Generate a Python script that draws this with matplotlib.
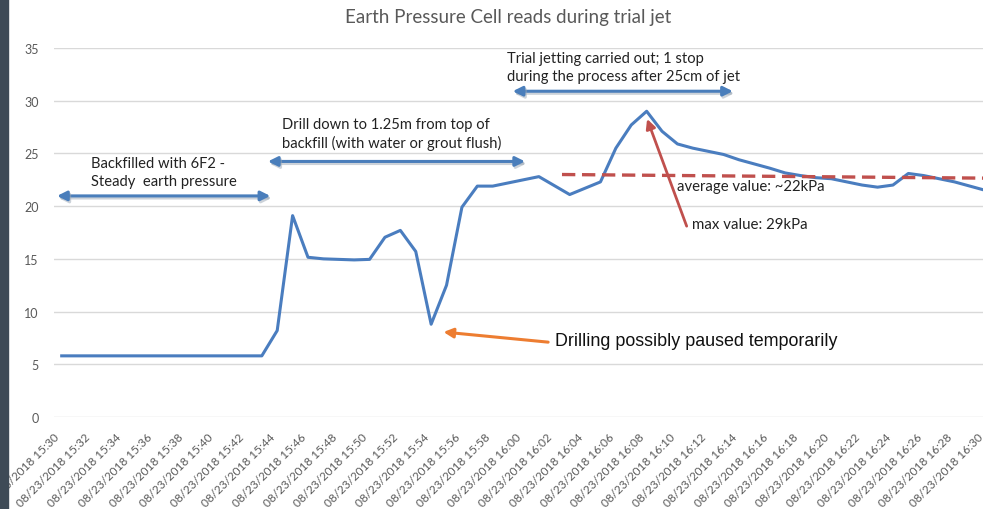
import matplotlib
matplotlib.use("Agg")
import matplotlib.pyplot as plt
from matplotlib.patches import Rectangle
import matplotlib.patheffects as pe

# readings, one per minute from 15:30 to 16:30 (kPa)
minutes = list(range(61))
pressure = [
    5.8, 5.8, 5.8, 5.8, 5.8, 5.8, 5.8, 5.8, 5.8, 5.8,
    5.8, 5.8, 5.8, 5.8, 8.2, 19.1, 15.15, 15.0, 14.95, 14.9,
    14.95, 17.05, 17.7, 15.7, 8.8, 12.5, 19.9, 21.9, 21.9, 22.2,
    22.5, 22.8, 21.95, 21.1, 21.7, 22.3, 25.5, 27.7, 29.0, 27.1,
    25.9, 25.5, 25.2, 24.9, 24.4, 24.0, 23.6, 23.15, 22.9, 22.7,
    22.6, 22.3, 22.0, 21.8, 22.0, 23.1, 22.9, 22.6, 22.3, 21.9,
    21.5,
]
tick_minutes = minutes[::2]
tick_labels = ["08/23/2018 %d:%02d" % (15 + (30 + m) // 60, (30 + m) % 60) for m in tick_minutes]

avg_x = [32.5, 60.4]
avg_y = [23.0, 22.65]

plt.rcParams['font.family'] = ['Lato', 'DejaVu Sans']

fig = plt.figure(figsize=(9.83, 5.10), dpi=100)
fig.patches.append(Rectangle((0, 0), 8 / 983, 1, transform=fig.transFigure,
                             color='#3e4a56', zorder=0))

ax = fig.add_axes([54 / 983, 92 / 510, 939 / 983, 369 / 510])
ax.set_xlim(-0.5, 60.5)
ax.set_ylim(0, 35)
ax.set_yticks(range(0, 36, 5))
ax.grid(axis='y', color='#d9d9d9', lw=1)
ax.set_axisbelow(True)
for s in ax.spines.values():
    s.set_visible(False)
ax.tick_params(length=0, colors='#595959', labelsize=8.5)
ax.tick_params(axis='y', labelsize=9, pad=11)
ax.set_xticks(tick_minutes)
ax.set_xticklabels(tick_labels, rotation=45, ha='right', va='top')
ax.tick_params(axis='x', pad=10)

ax.plot(minutes, pressure, color='#4a7dbf', lw=2.2, solid_joinstyle='round', zorder=3)

fig.text(508 / 983, 1 - 18 / 510, "Earth Pressure Cell reads during trial jet",
         ha='center', va='center', fontsize=13.5, color='#595959')

# phase arrows
blue = '#4a7ebb'
shadow = [pe.SimpleLineShadow(offset=(1, -1.5), shadow_color='#9aa7b5', alpha=0.5), pe.Normal()]
for x0, x1, y in [(-0.3, 13.55, 20.97), (13.4, 30.1, 24.24), (29.3, 43.6, 30.9)]:
    ax.annotate("", xy=(x1, y), xytext=(x0, y),
                arrowprops=dict(arrowstyle='<|-|>', color=blue, lw=2.2,
                                mutation_scale=14, shrinkA=0, shrinkB=0,
                                path_effects=shadow),
                annotation_clip=False, zorder=4)

ax.text(1.9, 23.24, "Backfilled with 6F2 -\nSteady  earth pressure",
        ha='left', va='center', fontsize=10.6, linespacing=1.35, color='#222222')
ax.text(14.3, 26.9, "Drill down to 1.25m from top of\nbackfill (with water or grout flush)",
        ha='left', va='center', fontsize=10.6, linespacing=1.35, color='#222222')
ax.text(28.9, 33.2, "Trial jetting carried out; 1 stop\nduring the process after 25cm of jet",
        ha='left', va='center', fontsize=10.6, linespacing=1.35, color='#222222')

# drilling pause
ax.annotate("", xy=(24.8, 8.06), xytext=(31.6, 7.1),
            arrowprops=dict(arrowstyle='-|>', color='#ed7d31', lw=2.2,
                            mutation_scale=14, shrinkA=0, shrinkB=0), zorder=4)
ax.text(32.05, 7.3, "Drilling possibly paused temporarily", family='Liberation Sans',
        ha='left', va='center', fontsize=12.9, color='#111111')

# average and max markers
ax.plot(avg_x, avg_y, color='#c0504d', lw=2.4, dashes=(4, 2), zorder=4, clip_on=False)
ax.text(39.97, 21.95, "average value: ~22kPa", ha='left', va='center',
        fontsize=10.7, color='#222222', zorder=5)
ax.annotate("", xy=(38.03, 28.27), xytext=(40.6, 18.1),
            arrowprops=dict(arrowstyle='-|>', color='#c0504d', lw=2.0,
                            mutation_scale=14, shrinkA=0, shrinkB=0), zorder=4)
ax.text(40.95, 18.3, "max value: %dkPa" % max(pressure), ha='left', va='center',
        fontsize=10.8, color='#222222')

fig.savefig("out.png", dpi=100, facecolor='white')
